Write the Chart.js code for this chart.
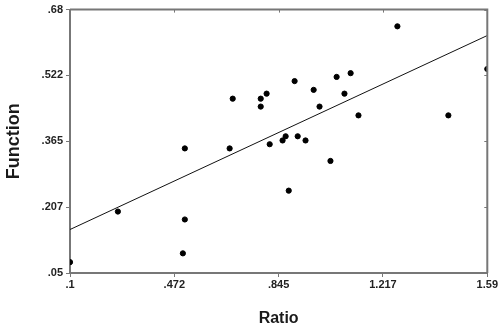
<!DOCTYPE html>
<html>
<head>
<meta charset="utf-8">
<script src="https://cdn.jsdelivr.net/npm/chart.js@4/dist/chart.umd.min.js"></script>
<style>
  html, body { margin: 0; padding: 0; background: #fff; }
  #wrap { width: 499px; height: 333px; }
</style>
</head>
<body>
<div id="wrap"><canvas id="chartRatio"></canvas></div>
<script>
// values
var ratioX = [0.100, 0.271, 0.503, 0.510, 0.510, 0.670, 0.681, 0.781, 0.781, 0.802,
              0.813, 0.859, 0.870, 0.881, 0.902, 0.913, 0.941, 0.970, 0.991, 1.030,
              1.052, 1.080, 1.102, 1.130, 1.269, 1.451, 1.590];
var functionY = [0.076, 0.197, 0.097, 0.178, 0.348, 0.348, 0.467, 0.467, 0.448, 0.479,
                 0.358, 0.367, 0.377, 0.247, 0.509, 0.377, 0.367, 0.488, 0.448, 0.318,
                 0.519, 0.479, 0.528, 0.427, 0.640, 0.427, 0.538];
// fit line end points
var fitX = [0.1, 1.59];
var fitY = [0.154, 0.618];

var xTickValues = [0.1, 0.4725, 0.845, 1.2175, 1.59];
var xTickLabels = ['.1', '.472', '.845', '1.217', '1.59'];
var yTickValues = [0.05, 0.2075, 0.365, 0.5225, 0.68];
var yTickLabels = ['.05', '.207', '.365', '.522', '.68'];

var points = [], fitLine = [];
ratioX.forEach(function(x, i) { points.push({x: x, y: functionY[i]}); });
fitX.forEach(function(x, i) { fitLine.push({x: x, y: fitY[i]}); });

// draws the top/right frame with small inward ticks
var framePlugin = {
    id: 'frame',
    afterDraw: function(chart) {
        var c = chart.ctx, a = chart.chartArea;
        var xs = chart.scales.x, ys = chart.scales.y;
        c.save();
        c.strokeStyle = '#777';
        c.lineWidth = 2;
        c.beginPath();
        c.moveTo(a.left, a.top); c.lineTo(a.right, a.top); c.lineTo(a.right, a.bottom);
        c.stroke();
        c.lineWidth = 1;
        c.beginPath();
        xTickValues.forEach(function(v) {
            var px = Math.round(xs.getPixelForValue(v)) + 0.5;
            c.moveTo(px, a.top); c.lineTo(px, a.top + 3);
        });
        yTickValues.forEach(function(v) {
            var py = Math.round(ys.getPixelForValue(v)) + 0.5;
            c.moveTo(a.right, py); c.lineTo(a.right - 3, py);
        });
        c.stroke();
        c.restore();
    }
};

var tickFont = { family: 'Arial, "Liberation Sans"', size: 11, weight: 'bold' };

var ctx = document.getElementById('chartRatio');
var myScatter = new Chart(ctx, {
    type: 'scatter',
    data: {
        datasets: [{
            label: 'Function',
            data: points,
            backgroundColor: '#000',
            borderColor: '#000',
            pointRadius: 2.6,
            pointHoverRadius: 2.6
            },{
            label: 'Fit',
            type: 'line',
            data: fitLine,
            borderColor: '#111',
            borderWidth: 1,
            pointRadius: 0,
            fill: false
            }
        ]
    },
    options: {
        responsive: true,
        maintainAspectRatio: false,
        animation: false,
        devicePixelRatio: 1,
        layout: { padding: { top: 7, right: 11, left: 0, bottom: 0 } },
        plugins: {
            legend: { display: false },
            tooltip: { enabled: false }
        },
        scales: {
            x: {
                type: 'linear',
                min: 0.1,
                max: 1.59,
                afterBuildTicks: function(scale) {
                    scale.ticks = xTickValues.map(function(v) { return {value: v}; });
                },
                afterFit: function(scale) { scale.height = 60; },
                ticks: {
                    font: tickFont,
                    color: '#222',
                    padding: 1,
                    maxRotation: 0,
                    callback: function(v, i) { return xTickLabels[i]; }
                },
                grid: { drawOnChartArea: false, tickLength: 4, color: '#777' },
                border: { color: '#777', width: 2 },
                title: {
                    display: true,
                    text: 'Ratio',
                    font: { family: 'Arial, "Liberation Sans"', size: 16, weight: 'bold' },
                    color: '#1a1a1a',
                    padding: { top: 0, bottom: 5 }
                }
            },
            y: {
                type: 'linear',
                min: 0.05,
                max: 0.68,
                afterBuildTicks: function(scale) {
                    scale.ticks = yTickValues.map(function(v) { return {value: v}; });
                },
                afterFit: function(scale) { scale.width = 70; },
                ticks: {
                    font: tickFont,
                    color: '#222',
                    padding: 3,
                    callback: function(v, i) { return yTickLabels[i]; }
                },
                grid: { drawOnChartArea: false, tickLength: 4, color: '#777' },
                border: { color: '#777', width: 2 },
                title: {
                    display: true,
                    text: 'Function',
                    font: { family: 'Arial, "Liberation Sans"', size: 18, weight: 'bold' },
                    color: '#1a1a1a',
                    padding: { top: 3, bottom: 0 }
                }
            }
        }
    },
    plugins: [framePlugin]
});
</script>
</body>
</html>
